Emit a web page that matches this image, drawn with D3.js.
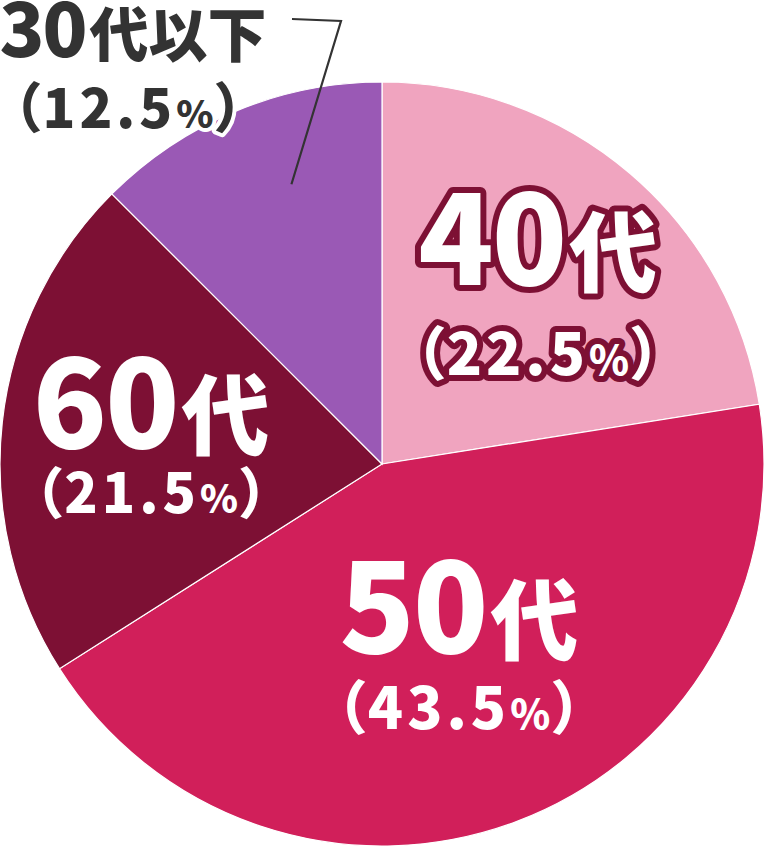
<!DOCTYPE html>
<html>
<head>
<meta charset="utf-8">
<script src="https://cdn.jsdelivr.net/npm/d3@7"></script>
<style>
  html, body { margin: 0; padding: 0; background: #fff; }
  svg { display: block; }
  text { font-family: "Noto Sans CJK JP", "Noto Sans", sans-serif; font-weight: 900; }
</style>
</head>
<body>
<div id="chart"></div>
<script>
(function (d3) {
  'use strict';

  // data, clockwise from 12 o'clock
  var ages = ["40代", "50代", "60代", "30代以下"];
  var shares = [22.5, 43.5, 21.5, 12.5];
  var sliceColors = ["#F0A4BF", "#D11F5A", "#7D1034", "#9A59B5"];

  var width = 764, height = 846;
  var cx = 382, cy = 464, radius = 382;

  var svg = d3.select("#chart").append("svg")
    .attr("width", width).attr("height", height);

  var data = ages.map(function (a, i) {
    return { age: a, share: shares[i], color: sliceColors[i] };
  });

  var pie = d3.pie().sort(null).value(function (d) { return d.share; });
  var arc = d3.arc().innerRadius(0).outerRadius(radius);
  var arcs = pie(data);

  var g = svg.append("g").attr("transform", "translate(" + cx + "," + cy + ")");

  g.selectAll("path.slice").data(arcs).enter().append("path")
    .attr("class", "slice")
    .attr("d", arc)
    .attr("fill", function (d) { return d.data.color; })
    .attr("stroke", "#fff")
    .attr("stroke-width", 1.2);

  // leader line for the small slice
  var small = arcs[3];
  var innerPt = d3.arc().innerRadius(radius * 0.77).outerRadius(radius * 0.77).centroid(small);
  svg.append("polyline")
    .attr("points", [[292, 19], [341, 21], [cx + innerPt[0] + 22, cy + innerPt[1] - 8]].map(function (p) { return p.join(","); }).join(" "))
    .attr("fill", "none")
    .attr("stroke", "#333")
    .attr("stroke-width", 2.2);

  // label layout (offsets from label centroid)
  var layout = [
    { r: 0.6, dx: 7, dy: -5, big: 124, sub: 88, pct: 58, gap: 90, anchor: "middle", fill: "#fff", stroke: "#7D1034", sw: 12 },
    { r: 0.6, dx: -4, dy: -25, big: 124, sub: 88, pct: 58, gap: 76, anchor: "middle", fill: "#fff", stroke: "none", sw: 0 },
    { r: 0.6, dx: -3, dy: 9, big: 122, sub: 88, pct: 55, gap: 65, anchor: "middle", fill: "#fff", stroke: "none", sw: 0 },
    { abs: true, x: 133, y: 57, px: 128, big: 74, sub: 59, pct: 54, gap: 71, anchor: "middle", fill: "#333", stroke: "#fff", sw: 8 }
  ];

  var labelArc = function (r) {
    return d3.arc().innerRadius(radius * r).outerRadius(radius * r);
  };

  arcs.forEach(function (d, i) {
    var L = layout[i];
    var x, y, px;
    if (L.abs) {
      x = L.x; y = L.y; px = L.px;
    } else {
      var c = labelArc(L.r).centroid(d);
      x = cx + c[0] + L.dx; y = cy + c[1] + L.dy; px = x;
    }
    var num = d.data.age.slice(0, 2);
    var rest = d.data.age.slice(2);

    var t1 = svg.append("text")
      .attr("x", x).attr("y", y)
      .attr("text-anchor", L.anchor)
      .attr("fill", L.fill)
      .attr("stroke", L.stroke)
      .attr("stroke-width", L.sw)
      .attr("stroke-linejoin", "round")
      .attr("paint-order", "stroke");
    t1.append("tspan").attr("font-size", L.big).attr("letter-spacing", -2).text(num);
    t1.append("tspan").attr("font-size", L.sub).attr("dx", 4).text(rest);

    var t2 = svg.append("text")
      .attr("x", px).attr("y", y + L.gap)
      .attr("text-anchor", L.anchor)
      .attr("fill", L.fill)
      .attr("stroke", L.stroke)
      .attr("stroke-width", L.sw)
      .attr("stroke-linejoin", "round")
      .attr("paint-order", "stroke");
    t2.append("tspan").attr("font-size", L.pct).text("（");
    t2.append("tspan").attr("font-size", L.pct).attr("letter-spacing", 4).text(d3.format(".1f")(d.data.share));
    t2.append("tspan").attr("font-size", L.pct * 0.7).text("%");
    t2.append("tspan").attr("font-size", L.pct).text("）");
  });
})(d3);
</script>
</body>
</html>
